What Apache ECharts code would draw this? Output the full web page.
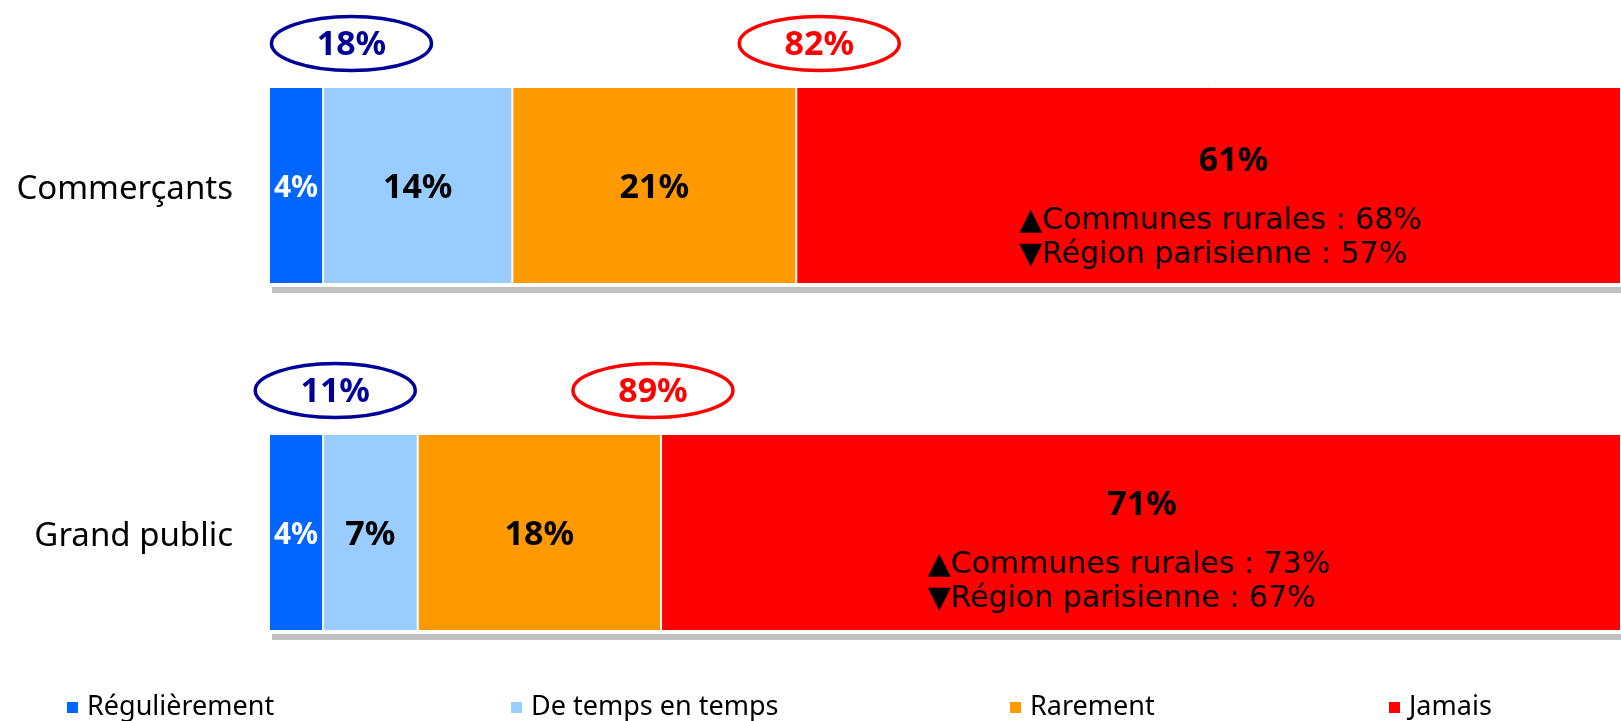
<!DOCTYPE html>
<html>
<head>
<meta charset="utf-8">
<script src="https://cdn.jsdelivr.net/npm/echarts@6/dist/echarts.min.js"></script>
<style>
html, body { margin: 0; padding: 0; background: #fff; }
#chart { width: 1621px; height: 721px; }
</style>
</head>
<body>
<div id="chart"></div>
<script>
var categories = ['Commerçants', 'Grand public'];
var seriesNames = ['Régulièrement', 'De temps en temps', 'Rarement', 'Jamais'];
var regulierement = [4, 4];
var deTempsEnTemps = [14, 7];
var rarement = [21, 18];
var jamais = [61, 71];
var totalOui = [18, 11];
var totalNon = [82, 89];
var communesRurales = [68, 73];
var regionParisienne = [57, 67];

var colors = ['#0066ff', '#99ccff', '#ff9900', '#ff0000'];
var font = "'Noto Sans', 'DejaVu Sans', sans-serif";
var subFont = "'DejaVu Sans', sans-serif";

// layout bits: where the ellipses sit (in axis % units), label shifts, legend lefts
var ouiAnchor = [6.1, 4.9];
var nonAnchor = [40.7, 28.4];
var jamaisShift = [[12, 10], [-12, 7]];
var legendLeft = [65, 509, 1008, 1387];
var barWidth = 197;

var chart = echarts.init(document.getElementById('chart'));

function barSeries(name, values, color, label) {
    return {
        name: name,
        type: 'bar',
        stack: 'total',
        data: values,
        barWidth: barWidth,
        itemStyle: { color: color, borderColor: '#fff', borderWidth: 1 },
        label: label,
        emphasis: { disabled: true }
    };
}

function innerLabel(color, size) {
    return {
        show: true,
        position: 'inside',
        offset: [0, 3],
        formatter: '{c}%',
        color: color,
        fontSize: size,
        fontWeight: 'bold',
        fontFamily: font
    };
}

var jamaisData = jamais.map(function (v, i) {
    return { value: v, label: { offset: jamaisShift[i] } };
});

var jamaisLabel = {
    show: true,
    position: 'inside',
    formatter: function (p) {
        var i = p.dataIndex;
        return '{v|' + p.value + '%}\n{s|▲Communes rurales : ' + communesRurales[i] +
            '%}\n{s|▼Région parisienne : ' + regionParisienne[i] + '%}';
    },
    rich: {
        v: { fontSize: 34, fontWeight: 'bold', lineHeight: 86, align: 'center', padding: [0, 0, 0, 26], color: '#000', fontFamily: font },
        s: { fontSize: 30, lineHeight: 34, align: 'left', color: '#000', fontFamily: subFont }
    }
};

chart.setOption({
    animation: false,
    grid: { left: 269, right: -2, top: 12, bottom: 15 },
    xAxis: { type: 'value', min: 0, max: 100, show: false },
    yAxis: {
        type: 'category',
        data: categories,
        inverse: true,
        axisLine: { show: false },
        axisTick: { show: false },
        axisLabel: {
            margin: 36,
            formatter: '{a|{value}}',
            rich: { a: { fontSize: 33, color: '#000', fontFamily: font, lineHeight: 40, padding: [8, 0, 0, 0] } }
        }
    },
    legend: seriesNames.map(function (n, i) {
        return {
            data: [n],
            left: legendLeft[i],
            top: 694,
            padding: 0,
            icon: 'rect',
            itemWidth: 13,
            itemHeight: 13,
            selectedMode: false,
            textStyle: { fontSize: 27, color: '#000', fontFamily: font, padding: [0, 0, 0, 3] }
        };
    }),
    series: [
        barSeries(seriesNames[0], regulierement, colors[0], innerLabel('#fff', 30)),
        barSeries(seriesNames[1], deTempsEnTemps, colors[1], innerLabel('#000', 34)),
        barSeries(seriesNames[2], rarement, colors[2], innerLabel('#000', 34)),
        barSeries(seriesNames[3], jamaisData, colors[3], jamaisLabel)
    ]
});

// grey strip under each bar + ellipses with the totals above each bar
var els = [];
var x0 = chart.convertToPixel({ xAxisIndex: 0 }, 0);
var x100 = chart.convertToPixel({ xAxisIndex: 0 }, 100);
categories.forEach(function (c, i) {
    var yMid = chart.convertToPixel({ yAxisIndex: 0 }, c);
    els.push({
        type: 'rect',
        z: -1,
        shape: { x: x0 + 3, y: yMid + barWidth / 2 + 3, width: x100 - x0, height: 6 },
        style: { fill: '#c0c0c0' }
    });
    var yc = yMid - 142;
    [[ouiAnchor[i], totalOui[i], '#000099'], [nonAnchor[i], totalNon[i], '#ff0000']].forEach(function (e) {
        var xc = chart.convertToPixel({ xAxisIndex: 0 }, e[0]);
        els.push({
            type: 'ellipse',
            shape: { cx: xc, cy: yc, rx: 80, ry: 27 },
            style: { fill: '#fff', stroke: e[2], lineWidth: 3.5 }
        });
        els.push({
            type: 'text',
            x: xc,
            y: yc + 2,
            style: {
                text: e[1] + '%',
                fill: e[2],
                fontSize: 34,
                fontWeight: 'bold',
                fontFamily: font,
                align: 'center',
                verticalAlign: 'middle'
            }
        });
    });
});
chart.setOption({ graphic: els });
</script>
</body>
</html>
